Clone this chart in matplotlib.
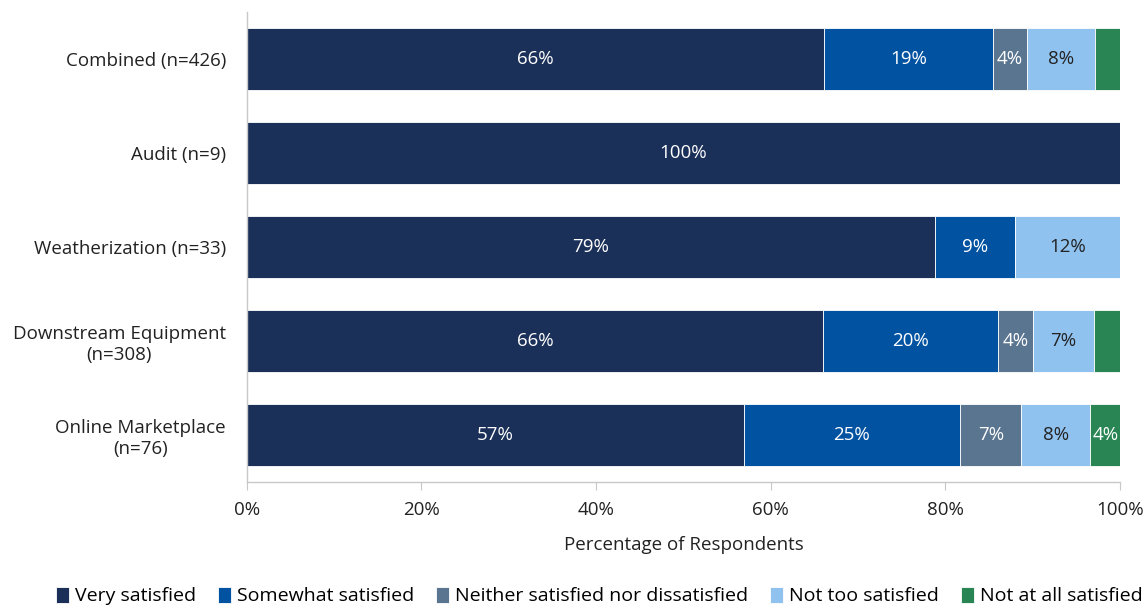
import numpy as np
import matplotlib.pyplot as plt

plt.rcParams['font.family'] = ['Open Sans', 'DejaVu Sans']

categories = ['Combined (n=426)', 'Audit (n=9)', 'Weatherization (n=33)',
              'Downstream Equipment\n(n=308)', 'Online Marketplace\n(n=76)']
series = ['Very satisfied', 'Somewhat satisfied', 'Neither satisfied nor dissatisfied',
          'Not too satisfied', 'Not at all satisfied']
very = [66.1, 100.0, 78.8, 66.0, 56.9]
somewhat = [19.4, 0.0, 9.2, 20.0, 24.8]
neither = [3.8, 0.0, 0.0, 4.0, 7.0]
not_too = [7.8, 0.0, 12.0, 7.0, 7.9]
not_at_all = [2.9, 0.0, 0.0, 3.0, 3.6]

colors = ['#1b3059', '#0152a1', '#5a7590', '#90c2f0', '#2a8555']
text_colors = ['white', 'white', 'white', '#222222', 'white']

fig, ax = plt.subplots(figsize=(11.48, 6.06), dpi=100)
fig.subplots_adjust(left=0.215, right=0.9756, top=0.98, bottom=0.2046)

y = np.arange(len(categories))
left = np.zeros(len(categories))
for name, vals, col, tcol in zip(series, [very, somewhat, neither, not_too, not_at_all], colors, text_colors):
    vals = np.array(vals)
    ax.barh(y, vals, left=left, height=0.66, color=col, edgecolor='white', linewidth=0.6, label=name)
    for yi, (l, v) in enumerate(zip(left, vals)):
        if v >= 3.5:
            ax.text(l + v / 2, yi, f"{v:.0f}%", ha='center', va='center', color=tcol, fontsize=13.5)
    left += vals

ax.set_ylim(4.5, -0.5)
ax.set_xlim(0, 100)
ax.set_yticks(y)
ax.set_yticklabels(categories, fontsize=13.5, color='#222222', multialignment='center')
ax.set_xticks(range(0, 101, 20))
ax.set_xticklabels([f"{t}%" for t in range(0, 101, 20)], fontsize=13.5, color='#222222')
ax.tick_params(axis='y', length=0, pad=15)
ax.tick_params(axis='x', length=6, color='#c8c8c8', pad=8)
ax.set_xlabel('Percentage of Respondents', fontsize=13.5, color='#222222', labelpad=12)
for s in ['top', 'right']:
    ax.spines[s].set_visible(False)
for s in ['left', 'bottom']:
    ax.spines[s].set_color('#c8c8c8')
    ax.spines[s].set_linewidth(1)

ax.legend(loc='lower center', bbox_to_anchor=(0.522, -0.012), bbox_transform=fig.transFigure,
          ncol=5, frameon=False, fontsize=14, handlelength=0.7, handleheight=0.9,
          handletextpad=0.3, columnspacing=1.1, borderaxespad=0.0)

fig.savefig('out.png')
